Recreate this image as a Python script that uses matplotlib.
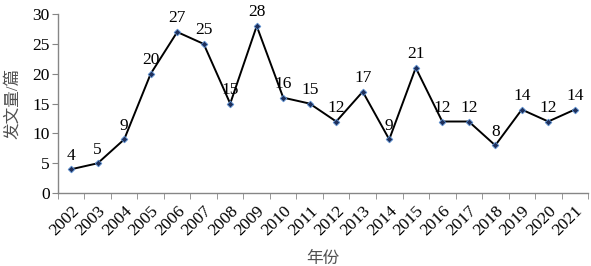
import matplotlib
matplotlib.use("Agg")
import matplotlib.pyplot as plt
import numpy as np

years = [str(y) for y in range(2002, 2022)]
counts = [4, 5, 9, 20, 27, 25, 15, 28, 16, 15, 12, 17, 9, 21, 12, 12, 8, 14, 12, 14]
y_ticks = [0, 5, 10, 15, 20, 25, 30]

plt.rcParams['font.family'] = ['Liberation Serif', 'Noto Sans CJK SC']
plt.rcParams['font.size'] = 12.5

fig = plt.figure(figsize=(5.91, 2.66), dpi=100)
ax = fig.add_axes([0.098, 0.274, 0.897, 0.673])

x = np.arange(len(years))
ax.plot(x, counts, color='black', lw=1.4, marker='D', markersize=3.4,
        markerfacecolor='#1f2f5a', markeredgecolor='#5b8fd0', markeredgewidth=0.6)
for xi, v in zip(x, counts):
    ax.annotate(str(v), (xi, v), xytext=(0, 4), textcoords='offset points',
                ha='center', va='bottom', fontsize=12.5)

ax.set_xlim(-0.5, len(years) - 0.5)
ax.set_ylim(0, 30)
ax.set_yticks(y_ticks)
ax.set_xticks(x)
ax.set_xticklabels(years, rotation=45, ha='right', rotation_mode='anchor')
ax.set_xticks(np.arange(-0.5, len(years), 1), minor=True)
ax.tick_params(axis='x', which='major', length=0, pad=7)
ax.tick_params(axis='x', which='minor', length=4, color='#868686', direction='out')
ax.tick_params(axis='y', length=4, color='#868686', direction='out', pad=2)

for s in ['top', 'right']:
    ax.spines[s].set_visible(False)
for s in ['left', 'bottom']:
    ax.spines[s].set_color('#868686')
    ax.spines[s].set_linewidth(1.0)

ax.set_ylabel('发文量/篇', fontsize=12, color='#505050', labelpad=8)
ax.set_xlabel('年份', fontsize=12, color='#505050', labelpad=9)

fig.savefig('out.png', dpi=100)
